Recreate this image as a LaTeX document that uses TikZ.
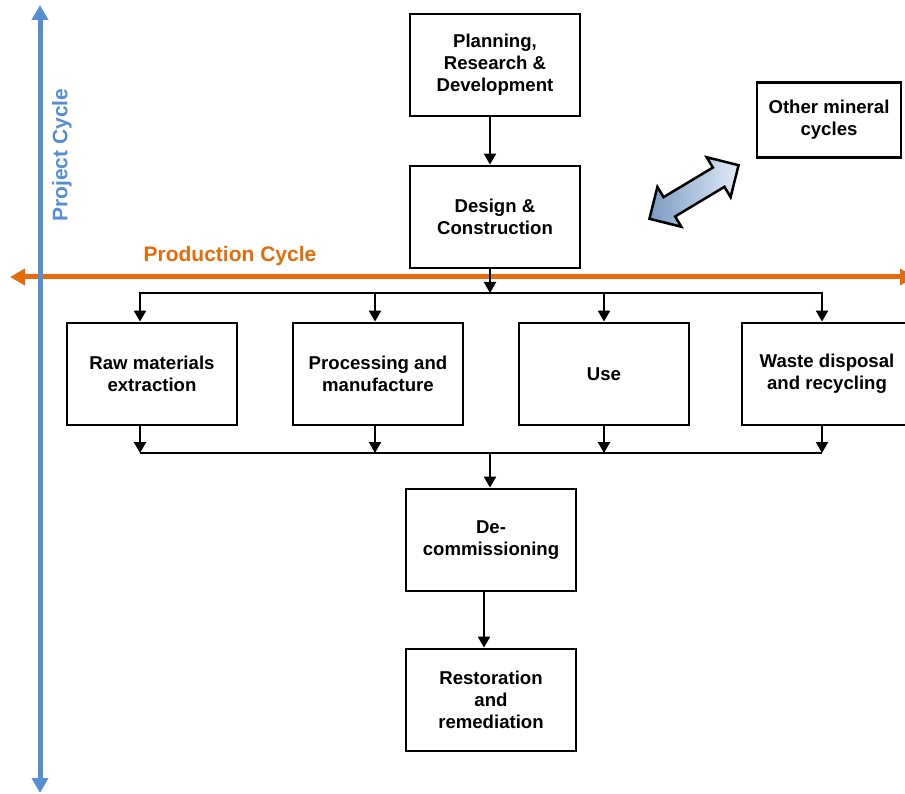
\documentclass[tikz,border=0pt]{standalone}
\usepackage{fontspec}
\setmainfont{Liberation Sans}
\usetikzlibrary{arrows.meta,shapes.arrows}
\definecolor{projblue}{HTML}{558ED5}
\definecolor{prodorange}{HTML}{E46C0A}

\begin{document}
\begin{tikzpicture}[x=1pt, y=-1pt,
etapa/.style={draw, line width=2.8pt, align=center, minimum width=170pt, minimum height=102pt, font=\fontsize{18.6}{22}\selectfont\bfseries},
seta/.style={-{Triangle[length=11pt,width=12pt]}, line width=2.2pt},
barra/.style={line width=2.2pt},
ciclo/.style={{Triangle[length=15pt,width=16pt]}-{Triangle[length=15pt,width=16pt]}, line width=5pt},
rotulo/.style={font=\fontsize{21}{24}\selectfont\bfseries}
]
\clip (0,0) rectangle (905,794);
\node[etapa] (plan) at (495,65) {Planning,\\Research \&\\Development};
\node[etapa] (design) at (495,217) {Design \&\\Construction};
\node[etapa, minimum width=144pt, minimum height=75pt] (other) at (829,120) {Other mineral\\cycles};
\node[etapa] (raw) at (152,374) {Raw materials\\extraction};
\node[etapa] (proc) at (378,374) {Processing and\\manufacture};
\node[etapa] (use) at (604,374) {Use};
\node[etapa] (waste) at (827,374) {Waste disposal\\and recycling};
\node[etapa] (decom) at (491,540) {De-\\commissioning};
\node[etapa] (resto) at (491,700) {Restoration\\and\\remediation};
\node[double arrow, draw, line width=2.5pt, rotate=31, minimum height=104pt, minimum width=44pt, inner sep=10pt, double arrow head extend=12pt, left color=projblue!65!gray!85, right color=projblue!18] (swap) at (694,192) {};
% cycle axes
\coordinate (prodL) at (10,277);
\coordinate (prodR) at (915,277);
\coordinate (projT) at (40,5);
\coordinate (projB) at (40,793);
\draw[ciclo, prodorange] (prodL) -- (prodR);
\draw[ciclo, projblue] (projT) -- (projB);
\node[rotulo, text=prodorange] (prodlabel) at (230,256) {Production Cycle};
\node[rotulo, text=projblue, rotate=90] (projlabel) at (62,155) {Project Cycle};
% flow
\coordinate (busA) at (490,293);
\coordinate (busB) at (490,453);
\draw[seta] ([xshift=-5pt]plan.south) -- ([xshift=-5pt]design.north);
\draw[seta] ([xshift=-5pt]design.south) -- (busA);
\draw[seta] (busA) -| ([xshift=-12pt]raw.north);
\draw[seta] (busA) -| ([xshift=-3pt]proc.north);
\draw[seta] (busA) -| (use.north);
\draw[seta] (busA) -| ([xshift=-5pt]waste.north);
\draw[seta] ([xshift=-12pt]raw.south) -- ([xshift=-12pt]raw.south |- busB);
\draw[seta] ([xshift=-3pt]proc.south) -- ([xshift=-3pt]proc.south |- busB);
\draw[seta] (use.south) -- (use.south |- busB);
\draw[seta] ([xshift=-5pt]waste.south) -- ([xshift=-5pt]waste.south |- busB);
\draw[barra] ([xshift=-12pt]raw.south |- busB) -- ([xshift=-5pt]waste.south |- busB);
\draw[seta] (busB) -- (busB |- decom.north);
\draw[seta] ([xshift=-7pt]decom.south) -- ([xshift=-7pt]resto.north);
\end{tikzpicture}
\end{document}
